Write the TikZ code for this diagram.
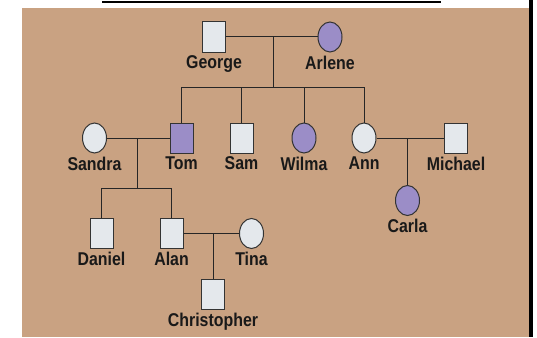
\documentclass[tikz,border=0pt]{standalone}
\usepackage{fontspec}
\setmainfont{Liberation Sans}[FakeStretch=0.86]
\usetikzlibrary{shapes.geometric}
\definecolor{paper}{RGB}{201,162,130}
\definecolor{affected}{RGB}{155,141,199}
\definecolor{unaffected}{RGB}{228,232,236}
\tikzset{
	person/.style={draw=black!80,line width=1pt,fill=unaffected,inner sep=0pt,
		label distance=3.5pt},
	male/.style={person,rectangle,minimum width=23pt,minimum height=30pt},
	female/.style={person,ellipse,minimum width=24pt,minimum height=30pt},
	hit/.style={fill=affected},
	every label/.style={font=\bfseries\fontsize{18.5}{20}\selectfont,text=black!90},
	link/.style={draw=black!85,line width=1pt}}

\begin{document}
\begin{tikzpicture}[x=1pt,y=-1pt]
	\useasboundingbox (0,0) rectangle (537,337);
	\fill[paper] (22,8) rectangle (529,337);
	\fill[black] (529,0) rectangle (533,337);
	\draw[line width=2pt] (102,2) -- (441,2);

	\node[male,label=below:George] (george) at (214,37) {};
	\node[female,hit,label=below:Arlene] (arlene) at (330,37) {};

	\node[female,label=below:Sandra] (sandra) at (94.5,138) {};
	\node[male,hit,label=below:Tom] (tom) at (181.5,138) {};
	\node[male,label=below:Sam] (sam) at (241.5,138) {};
	\node[female,hit,label=below:Wilma] (wilma) at (304,138) {};
	\node[female,label=below:Ann] (ann) at (364,138) {};
	\node[male,label=below:Michael] (michael) at (456,138) {};

	\node[male,label=below:Daniel] (daniel) at (101.5,233.5) {};
	\node[male,label=below:Alan] (alan) at (171.5,233.5) {};
	\node[female,label=below:Tina] (tina) at (251.5,233.5) {};
	\node[female,hit,label=below:Carla] (carla) at (407.5,200.5) {};
	\node[male,label=below:Christopher] (chris) at (213,294.5) {};

	\coordinate (ga) at (273,37);
	\coordinate (kids1) at (273,87);
	\coordinate (st) at (137,138);
	\coordinate (kids2) at (137,188);
	\coordinate (am) at (407.5,138);
	\coordinate (at) at (213,233.5);

	\draw[link] (george) -- (arlene) (ga) -- (kids1)
		(tom |- kids1) -- (ann |- kids1);
	\foreach \k in {tom,sam,wilma,ann}
		\draw[link] (\k) -- (\k |- kids1);
	\draw[link] (sandra) -- (tom) (st) -- (kids2)
		(daniel |- kids2) -- (alan |- kids2);
	\foreach \k in {daniel,alan}
		\draw[link] (\k) -- (\k |- kids2);
	\draw[link] (ann) -- (michael) (am) -- (carla);
	\draw[link] (alan) -- (tina) (at) -- (chris);
\end{tikzpicture}
\end{document}
